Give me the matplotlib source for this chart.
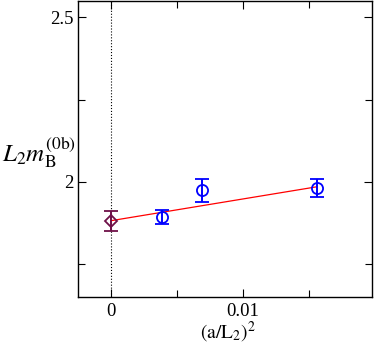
import matplotlib
matplotlib.use("Agg")
import matplotlib.pyplot as plt
from matplotlib.ticker import MultipleLocator

plt.rcParams['font.family'] = ['Liberation Serif', 'DejaVu Serif']
plt.rcParams['mathtext.fontset'] = 'stix'

# data
x_data = [0.0039, 0.0069, 0.0156]
y_data = [1.894, 1.974, 1.982]
y_err = [0.022, 0.035, 0.027]

x_extrap = [0.0]
y_extrap = [1.882]
y_extrap_err = [0.030]

fit_x = [0.0, 0.0156]
fit_y = [1.882, 1.985]

fig = plt.figure(figsize=(3.76, 3.46), dpi=100)
ax = fig.add_axes([78/376, 49/346, 294/376, 296/346])

ax.axvline(0, color='black', linestyle=':', linewidth=0.8)
ax.plot(fit_x, fit_y, color='red', linewidth=0.9)
ax.errorbar(x_data, y_data, yerr=y_err, fmt='o', color='blue', mfc='none',
            markersize=8, mew=1.3, elinewidth=1.4, capsize=5, capthick=1.4)
ax.errorbar(x_extrap, y_extrap, yerr=y_extrap_err, fmt='D', color='#6e1048',
            mfc='none', markersize=6, mew=1.3, elinewidth=1.4, capsize=5,
            capthick=1.4)

ax.set_xlim(-0.0025, 0.0198)
ax.set_ylim(1.65, 2.55)
ax.xaxis.set_minor_locator(MultipleLocator(0.005))
ax.yaxis.set_minor_locator(MultipleLocator(0.25))
ax.set_xticks([0, 0.01])
ax.set_xticklabels(['0', '0.01'])
ax.set_yticks([2.0, 2.5])
ax.set_yticklabels(['2', '2.5'])

ax.tick_params(which='both', direction='in', top=True, right=True,
               labelsize=13.5, width=0.8)
ax.tick_params(axis='y', pad=3)
ax.tick_params(axis='x', pad=4)
ax.tick_params(which='major', length=6)
ax.tick_params(which='minor', length=5)
for s in ax.spines.values():
    s.set_linewidth(1.0)

fig.text(228/376, 1 - 332/346, r'$(\mathrm{a/L_2})^2$', fontsize=14,
         ha='center', va='center')
fig.text(2/376, 1 - 152/346, r'$L_2m_\mathrm{B}^{(\mathrm{0b})}$', fontsize=18,
         ha='left', va='center')

fig.savefig('out.png', dpi=100)
